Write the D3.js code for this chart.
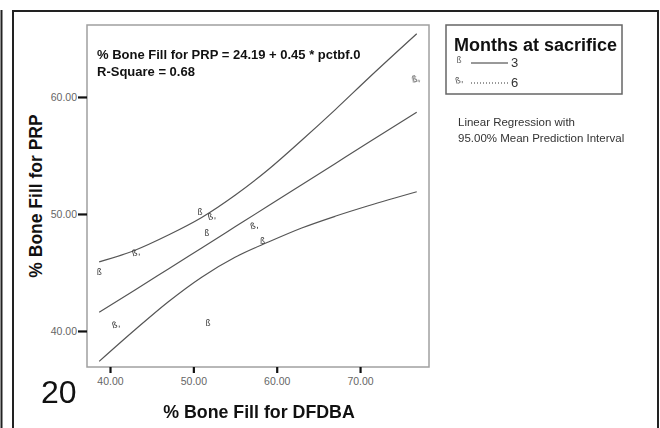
<!DOCTYPE html>
<html>
<head>
<meta charset="utf-8">
<script src="https://cdn.jsdelivr.net/npm/d3@7"></script>
<style>
  body { margin: 0; background: #fff; }
  svg { display: block; font-family: 'Liberation Sans', Arial, sans-serif; }
  .glyph { font-family: 'DejaVu Sans', sans-serif; }
</style>
</head>
<body>
<div id="chart"></div>
<script>
// observed points: % bone fill DFDBA (x) vs PRP (y), by months at sacrifice
const dfdba = [38.7, 43.1, 40.7, 51.75, 51.6, 50.8, 52.2, 57.3, 58.3, 76.7]
const prp = [45.0, 46.7, 40.55, 40.7, 48.4, 50.2, 49.8, 49.0, 47.7, 61.5]
const months = [3, 6, 6, 3, 3, 3, 6, 6, 3, 6]

// fit line and 95% mean prediction interval
const bandX = [38.7, 43, 47, 51, 55, 59, 63, 67, 71, 76.8]
const fitY = [41.6, 43.5, 45.3, 47.1, 48.9, 50.7, 52.5, 54.3, 56.1, 58.7]
const upperY = [45.9, 46.9, 48.2, 49.7, 51.6, 53.8, 56.3, 58.9, 61.6, 65.4]
const lowerY = [37.4, 40.1, 42.5, 44.6, 46.3, 47.6, 48.8, 49.8, 50.7, 51.9]

const xTicks = [40, 50, 60, 70]
const yTicks = [40, 50, 60]
const legendKeys = [3, 6]

const W = 660, H = 428
const svg = d3.select('#chart').append('svg').attr('width', W).attr('height', H)

// outer frame
const frame = svg.append('g').attr('stroke', '#222').attr('fill', 'none')
frame.append('line').attr('x1', 1.5).attr('x2', 1.5).attr('y1', 10).attr('y2', H).attr('stroke-width', 2)
frame.append('path').attr('d', `M13,${H}V11H658V${H}`).attr('stroke-width', 2)

const x = d3.scaleLinear().domain([37.24, 78.27]).range([87, 429])
const y = d3.scaleLinear().domain([36.92, 66.15]).range([367, 25])

svg.append('rect')
  .attr('x', 87).attr('y', 25).attr('width', 342).attr('height', 342)
  .attr('fill', 'none').attr('stroke', '#a0a0a0').attr('stroke-width', 1.5)

const yAxis = svg.append('g').attr('transform', 'translate(87,0)')
  .call(d3.axisLeft(y).tickValues(yTicks).tickFormat(d3.format('.2f')).tickSize(9).tickPadding(1))
const xAxis = svg.append('g').attr('transform', 'translate(0,367)')
  .call(d3.axisBottom(x).tickValues(xTicks).tickFormat(d3.format('.2f')).tickSize(6).tickPadding(5))
;[yAxis, xAxis].forEach(a => {
  a.select('.domain').remove()
  a.selectAll('.tick line').attr('stroke', '#111').attr('stroke-width', 2.2)
  a.selectAll('.tick text').attr('fill', '#666').attr('font-size', 10.5)
    .attr('font-family', "'Liberation Sans', Arial, sans-serif")
})

// regression line + interval
const pts = arr => bandX.map((v, i) => [v, arr[i]])
const lineGen = d3.line().x(d => x(d[0])).y(d => y(d[1])).curve(d3.curveMonotoneX)
;[upperY, fitY, lowerY].forEach(arr => {
  svg.append('path').datum(pts(arr))
    .attr('fill', 'none').attr('stroke', '#555').attr('stroke-width', 1.2)
    .attr('d', lineGen)
})

// markers (group opacity keeps the tiny glyphs grey)
const glyph = m => m === 3 ? 'ß' : 'ß,'
svg.append('g').attr('opacity', 0.99)
  .selectAll('.pt')
  .data(dfdba.map((v, i) => ({ x: v, y: prp[i], m: months[i] })))
  .join('text')
  .attr('class', 'pt glyph')
  .attr('x', d => x(d.x)).attr('y', d => y(d.y) + 3)
  .attr('text-anchor', 'middle')
  .attr('font-size', d => d.m === 3 ? 8 : 8.5)
  .attr('fill', '#333')
  .attr('transform', d => d.m === 6 ? `rotate(-15,${x(d.x)},${y(d.y)})` : null)
  .text(d => glyph(d.m))

// equation
svg.append('text').attr('x', 97).attr('y', 59).attr('font-size', 13).attr('font-weight', 'bold').attr('fill', '#111')
  .text('% Bone Fill for PRP = 24.19 + 0.45 * pctbf.0')
svg.append('text').attr('x', 97).attr('y', 76).attr('font-size', 13).attr('font-weight', 'bold').attr('fill', '#111')
  .text('R-Square = 0.68')

// axis titles
svg.append('text').attr('x', 259).attr('y', 418).attr('text-anchor', 'middle')
  .attr('font-size', 17.8).attr('font-weight', 'bold').attr('fill', '#111')
  .text('% Bone Fill for DFDBA')
svg.append('text').attr('transform', 'translate(42,196) rotate(-90)').attr('text-anchor', 'middle')
  .attr('font-size', 17.5).attr('font-weight', 'bold').attr('fill', '#111')
  .text('% Bone Fill for PRP')

// figure number
svg.append('text').attr('x', 41).attr('y', 403).attr('font-size', 32).attr('fill', '#111')
  .text('20')

// legend
const lg = svg.append('g')
lg.append('rect').attr('x', 446).attr('y', 25).attr('width', 176).attr('height', 69)
  .attr('fill', 'none').attr('stroke', '#666').attr('stroke-width', 1.5)
lg.append('text').attr('x', 454).attr('y', 51).attr('font-size', 18).attr('font-weight', 'bold').attr('fill', '#111')
  .text('Months at sacrifice')
legendKeys.forEach((k, i) => {
  const ry = 62 + i * 20
  lg.append('g').attr('opacity', 0.99).append('text').attr('class', 'glyph').attr('x', 459).attr('y', ry + 1).attr('text-anchor', 'middle')
    .attr('font-size', k === 3 ? 8 : 8.5).attr('fill', '#555')
    .attr('transform', k === 6 ? `rotate(-15,459,${ry - 2})` : null)
    .text(glyph(k))
  lg.append('line').attr('x1', 471).attr('x2', 508).attr('y1', ry + 1).attr('y2', ry + 1)
    .attr('stroke', '#333').attr('stroke-width', 1)
    .attr('stroke-dasharray', k === 6 ? '1,2' : null)
  lg.append('text').attr('x', 511).attr('y', ry + 5).attr('font-size', 13).attr('fill', '#333').text(k)
})

svg.append('text').attr('x', 458).attr('y', 126).attr('font-size', 11.5).attr('fill', '#333')
  .text('Linear Regression with')
svg.append('text').attr('x', 458).attr('y', 142).attr('font-size', 11.5).attr('fill', '#333')
  .text('95.00% Mean Prediction Interval')
</script>
</body>
</html>
